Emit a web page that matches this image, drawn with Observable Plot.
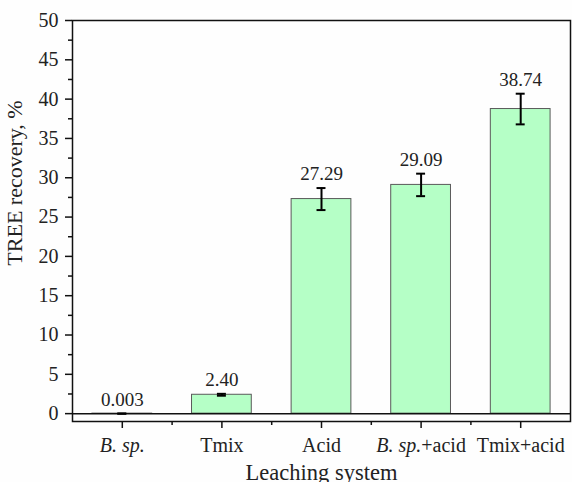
<!DOCTYPE html>
<html>
<head>
<meta charset="utf-8">
<script src="https://cdn.jsdelivr.net/npm/d3@7"></script>
<script src="https://cdn.jsdelivr.net/npm/@observablehq/plot@0.6"></script>
<style>
  html, body { margin: 0; padding: 0; background: #fefefe; }
  #chart { width: 572px; height: 482px; overflow: hidden; }
  #chart svg, #chart svg text { font-family: "Liberation Serif", "Times New Roman", serif !important; }
</style>
</head>
<body>
<div id="chart"></div>
<script>
// ---- data ----
const categories = ["B. sp.", "Tmix", "Acid", "B. sp.+acid", "Tmix+acid"];
const recovery = [0.003, 2.40, 27.29, 29.09, 38.74];
const errors = [0.003, 0.12, 1.4, 1.43, 1.95];
const labels = ["0.003", "2.40", "27.29", "29.09", "38.74"];
const yTicks = [0, 5, 10, 15, 20, 25, 30, 35, 40, 45, 50];
const yMinorTicks = [2.5, 7.5, 12.5, 17.5, 22.5, 27.5, 32.5, 37.5, 42.5, 47.5];

const data = categories.map((c, i) => ({
  i, name: c, value: recovery[i], err: errors[i], label: labels[i]
}));
const barHalf = 0.3;
const capHalf = 0.045;
const xMinor = d3.range(0.5, categories.length - 1, 1);

const plot = Plot.plot({
  width: 572,
  height: 482,
  marginLeft: 72,
  marginRight: 2,
  marginTop: 20,
  marginBottom: 61,
  style: { fontFamily: "'Liberation Serif', serif", background: "transparent" },
  x: { type: "linear", domain: [-0.5, categories.length - 0.5] },
  y: { domain: [-1, 50] },
  marks: [
    Plot.rectY(data, {
      x1: d => d.i - barHalf, x2: d => d.i + barHalf, y1: 0, y2: "value",
      fill: "#b5ffc6", stroke: "#5a5a5a", strokeWidth: 1
    }),
    Plot.ruleY([0], { stroke: "#111", strokeWidth: 1.5 }),
    Plot.ruleX(data, {
      x: "i", y1: d => d.value - d.err, y2: d => d.value + d.err,
      stroke: "#000", strokeWidth: 2
    }),
    Plot.ruleY(data, {
      y: d => d.value + d.err, x1: d => d.i - capHalf, x2: d => d.i + capHalf,
      stroke: "#000", strokeWidth: 2
    }),
    Plot.ruleY(data, {
      y: d => d.value - d.err, x1: d => d.i - capHalf, x2: d => d.i + capHalf,
      stroke: "#000", strokeWidth: 2
    }),
    Plot.text(data, {
      x: "i", y: d => d.value + d.err, text: "label",
      lineAnchor: "bottom", dy: -8, fontSize: 19, fill: "#222",
      className: "vlabel"
    }),
    Plot.axisY({
      ticks: yTicks, tickSize: 7, tickPadding: 7, fontSize: 20,
      stroke: "#111", strokeWidth: 1.5, color: "#222",
      label: "TREE recovery, %", labelAnchor: "center", labelArrow: "none",
      labelOffset: 66
    }),
    Plot.axisY({
      ticks: yMinorTicks, tickSize: 4, tickFormat: () => "", label: null,
      stroke: "#111", strokeWidth: 1.5
    }),
    Plot.axisX({
      ticks: d3.range(categories.length), tickSize: 7, tickPadding: 9,
      tickFormat: i => categories[i], fontSize: 20,
      stroke: "#111", strokeWidth: 1.5, color: "#222",
      label: "Leaching system", labelAnchor: "center", labelArrow: "none",
      labelOffset: 58
    }),
    Plot.axisX({
      ticks: xMinor, tickSize: 4, tickFormat: () => "", label: null,
      stroke: "#111", strokeWidth: 1.5
    }),
    Plot.frame({ stroke: "#111", strokeWidth: 1.5 })
  ]
});

// Serif fonts, italic species names, larger axis titles
const svg = d3.select(plot);
svg.selectAll("text").each(function () {
  const t = d3.select(this);
  const s = t.text();
  t.style("font-family", "'Liberation Serif', 'Times New Roman', serif");
  if (s === "B. sp." || s === "B. sp.+acid") {
    t.text("");
    t.append("tspan").attr("font-style", "italic").text("B. sp.");
    if (s.length > 6) t.append("tspan").text("+acid");
  }
  if (s === "TREE recovery, %") {
    t.style("font-size", "22px").attr("fill", "#222").attr("dx", 38);
  }
  if (s === "Leaching system") {
    t.style("font-size", "22.5px").attr("fill", "#222");
  }
});
svg.selectAll("g[aria-label='y-axis tick label'] text, g[aria-label='y-axis tick label']").style("font-size", "20px");
svg.selectAll("g[aria-label='x-axis tick label'] text, g[aria-label='x-axis tick label']").style("font-size", "20px");
svg.selectAll(".vlabel text, .vlabel").style("font-size", "19px");
document.getElementById("chart").appendChild(plot);
</script>
</body>
</html>
